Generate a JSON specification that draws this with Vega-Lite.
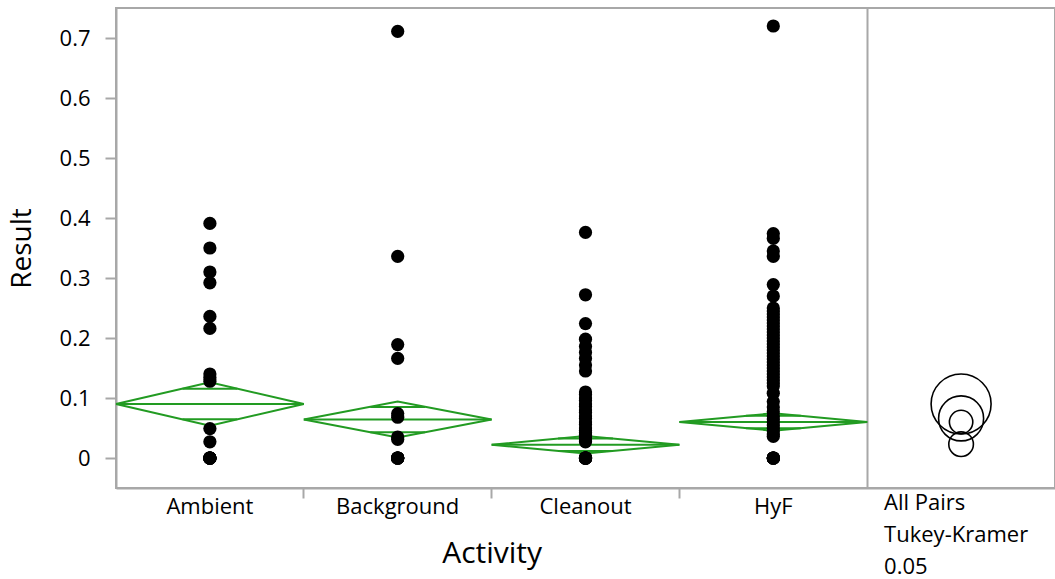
{
  "$schema": "https://vega.github.io/schema/vega-lite/v6.json",
  "width": 939,
  "height": 480,
  "autosize": {"type": "none"},
  "padding": {"left": 116, "top": 8, "right": 0, "bottom": 91},
  "background": "white",
  "config": {
    "font": "Open Sans",
    "view": {"stroke": "#a8a8a8", "strokeWidth": 2},
    "axis": {
      "domainColor": "#a8a8a8", "domainWidth": 2,
      "tickColor": "#a8a8a8", "tickWidth": 2,
      "labelColor": "black", "titleColor": "black",
      "labelFontSize": 22, "titleFontSize": 28, "titleFontWeight": "normal",
      "grid": false
    }
  },
  "datasets": {
    "points": [
      {"Activity": "Ambient", "Result": 0.391}, {"Activity": "Ambient", "Result": 0.35}, {"Activity": "Ambient", "Result": 0.31},
      {"Activity": "Ambient", "Result": 0.292}, {"Activity": "Ambient", "Result": 0.236}, {"Activity": "Ambient", "Result": 0.216},
      {"Activity": "Ambient", "Result": 0.14}, {"Activity": "Ambient", "Result": 0.134}, {"Activity": "Ambient", "Result": 0.128},
      {"Activity": "Ambient", "Result": 0.049}, {"Activity": "Ambient", "Result": 0.027},
      {"Activity": "Ambient", "Result": 0}, {"Activity": "Ambient", "Result": 0}, {"Activity": "Ambient", "Result": 0}, {"Activity": "Ambient", "Result": 0},
      {"Activity": "Ambient", "Result": 0}, {"Activity": "Ambient", "Result": 0}, {"Activity": "Ambient", "Result": 0}, {"Activity": "Ambient", "Result": 0},
      {"Activity": "Background", "Result": 0.711}, {"Activity": "Background", "Result": 0.336}, {"Activity": "Background", "Result": 0.189},
      {"Activity": "Background", "Result": 0.166}, {"Activity": "Background", "Result": 0.074}, {"Activity": "Background", "Result": 0.068},
      {"Activity": "Background", "Result": 0.035}, {"Activity": "Background", "Result": 0.031},
      {"Activity": "Background", "Result": 0}, {"Activity": "Background", "Result": 0}, {"Activity": "Background", "Result": 0},
      {"Activity": "Background", "Result": 0}, {"Activity": "Background", "Result": 0}, {"Activity": "Background", "Result": 0},
      {"Activity": "Cleanout", "Result": 0.376}, {"Activity": "Cleanout", "Result": 0.272}, {"Activity": "Cleanout", "Result": 0.224},
      {"Activity": "Cleanout", "Result": 0.198}, {"Activity": "Cleanout", "Result": 0.186}, {"Activity": "Cleanout", "Result": 0.176},
      {"Activity": "Cleanout", "Result": 0.166}, {"Activity": "Cleanout", "Result": 0.155}, {"Activity": "Cleanout", "Result": 0.145},
      {"Activity": "Cleanout", "Result": 0.11}, {"Activity": "Cleanout", "Result": 0.106}, {"Activity": "Cleanout", "Result": 0.1},
      {"Activity": "Cleanout", "Result": 0.096}, {"Activity": "Cleanout", "Result": 0.09}, {"Activity": "Cleanout", "Result": 0.086},
      {"Activity": "Cleanout", "Result": 0.08}, {"Activity": "Cleanout", "Result": 0.076}, {"Activity": "Cleanout", "Result": 0.07},
      {"Activity": "Cleanout", "Result": 0.066}, {"Activity": "Cleanout", "Result": 0.06}, {"Activity": "Cleanout", "Result": 0.056},
      {"Activity": "Cleanout", "Result": 0.05}, {"Activity": "Cleanout", "Result": 0.046}, {"Activity": "Cleanout", "Result": 0.042},
      {"Activity": "Cleanout", "Result": 0.038}, {"Activity": "Cleanout", "Result": 0.034}, {"Activity": "Cleanout", "Result": 0.03},
      {"Activity": "Cleanout", "Result": 0.027},
      {"Activity": "Cleanout", "Result": 0}, {"Activity": "Cleanout", "Result": 0}, {"Activity": "Cleanout", "Result": 0}, {"Activity": "Cleanout", "Result": 0},
      {"Activity": "Cleanout", "Result": 0}, {"Activity": "Cleanout", "Result": 0}, {"Activity": "Cleanout", "Result": 0}, {"Activity": "Cleanout", "Result": 0},
      {"Activity": "HyF", "Result": 0.72}, {"Activity": "HyF", "Result": 0.374}, {"Activity": "HyF", "Result": 0.366},
      {"Activity": "HyF", "Result": 0.345}, {"Activity": "HyF", "Result": 0.336}, {"Activity": "HyF", "Result": 0.289},
      {"Activity": "HyF", "Result": 0.27}, {"Activity": "HyF", "Result": 0.25}, {"Activity": "HyF", "Result": 0.245},
      {"Activity": "HyF", "Result": 0.24}, {"Activity": "HyF", "Result": 0.235}, {"Activity": "HyF", "Result": 0.23},
      {"Activity": "HyF", "Result": 0.225}, {"Activity": "HyF", "Result": 0.22}, {"Activity": "HyF", "Result": 0.215},
      {"Activity": "HyF", "Result": 0.21}, {"Activity": "HyF", "Result": 0.205}, {"Activity": "HyF", "Result": 0.2},
      {"Activity": "HyF", "Result": 0.195}, {"Activity": "HyF", "Result": 0.19}, {"Activity": "HyF", "Result": 0.185},
      {"Activity": "HyF", "Result": 0.18}, {"Activity": "HyF", "Result": 0.175}, {"Activity": "HyF", "Result": 0.17},
      {"Activity": "HyF", "Result": 0.165}, {"Activity": "HyF", "Result": 0.16}, {"Activity": "HyF", "Result": 0.155},
      {"Activity": "HyF", "Result": 0.15}, {"Activity": "HyF", "Result": 0.145}, {"Activity": "HyF", "Result": 0.14},
      {"Activity": "HyF", "Result": 0.135}, {"Activity": "HyF", "Result": 0.13}, {"Activity": "HyF", "Result": 0.125},
      {"Activity": "HyF", "Result": 0.12}, {"Activity": "HyF", "Result": 0.108}, {"Activity": "HyF", "Result": 0.094},
      {"Activity": "HyF", "Result": 0.085}, {"Activity": "HyF", "Result": 0.077}, {"Activity": "HyF", "Result": 0.07},
      {"Activity": "HyF", "Result": 0.065}, {"Activity": "HyF", "Result": 0.06}, {"Activity": "HyF", "Result": 0.055},
      {"Activity": "HyF", "Result": 0.05}, {"Activity": "HyF", "Result": 0.045}, {"Activity": "HyF", "Result": 0.04},
      {"Activity": "HyF", "Result": 0.036},
      {"Activity": "HyF", "Result": 0}, {"Activity": "HyF", "Result": 0}, {"Activity": "HyF", "Result": 0},
      {"Activity": "HyF", "Result": 0}, {"Activity": "HyF", "Result": 0}, {"Activity": "HyF", "Result": 0}
    ],
    "diamonds": [
      {"Activity": "Ambient", "shape": "d", "k": 0, "pos": 0, "Result": 0.09},
      {"Activity": "Ambient", "shape": "d", "k": 1, "pos": 0.5, "Result": 0.126},
      {"Activity": "Ambient", "shape": "d", "k": 2, "pos": 1, "Result": 0.09},
      {"Activity": "Ambient", "shape": "d", "k": 3, "pos": 0.5, "Result": 0.054},
      {"Activity": "Ambient", "shape": "d", "k": 4, "pos": 0, "Result": 0.09},
      {"Activity": "Ambient", "shape": "m", "k": 0, "pos": 0, "Result": 0.09},
      {"Activity": "Ambient", "shape": "m", "k": 1, "pos": 1, "Result": 0.09},
      {"Activity": "Ambient", "shape": "ou", "k": 0, "pos": 0.354, "Result": 0.1155},
      {"Activity": "Ambient", "shape": "ou", "k": 1, "pos": 0.646, "Result": 0.1155},
      {"Activity": "Ambient", "shape": "ol", "k": 0, "pos": 0.354, "Result": 0.0645},
      {"Activity": "Ambient", "shape": "ol", "k": 1, "pos": 0.646, "Result": 0.0645},
      {"Activity": "Background", "shape": "d", "k": 0, "pos": 0, "Result": 0.064},
      {"Activity": "Background", "shape": "d", "k": 1, "pos": 0.5, "Result": 0.094},
      {"Activity": "Background", "shape": "d", "k": 2, "pos": 1, "Result": 0.064},
      {"Activity": "Background", "shape": "d", "k": 3, "pos": 0.5, "Result": 0.034},
      {"Activity": "Background", "shape": "d", "k": 4, "pos": 0, "Result": 0.064},
      {"Activity": "Background", "shape": "m", "k": 0, "pos": 0, "Result": 0.064},
      {"Activity": "Background", "shape": "m", "k": 1, "pos": 1, "Result": 0.064},
      {"Activity": "Background", "shape": "ou", "k": 0, "pos": 0.354, "Result": 0.0852},
      {"Activity": "Background", "shape": "ou", "k": 1, "pos": 0.646, "Result": 0.0852},
      {"Activity": "Background", "shape": "ol", "k": 0, "pos": 0.354, "Result": 0.0428},
      {"Activity": "Background", "shape": "ol", "k": 1, "pos": 0.646, "Result": 0.0428},
      {"Activity": "Cleanout", "shape": "d", "k": 0, "pos": 0, "Result": 0.022},
      {"Activity": "Cleanout", "shape": "d", "k": 1, "pos": 0.5, "Result": 0.0365},
      {"Activity": "Cleanout", "shape": "d", "k": 2, "pos": 1, "Result": 0.022},
      {"Activity": "Cleanout", "shape": "d", "k": 3, "pos": 0.5, "Result": 0.0075},
      {"Activity": "Cleanout", "shape": "d", "k": 4, "pos": 0, "Result": 0.022},
      {"Activity": "Cleanout", "shape": "m", "k": 0, "pos": 0, "Result": 0.022},
      {"Activity": "Cleanout", "shape": "m", "k": 1, "pos": 1, "Result": 0.022},
      {"Activity": "Cleanout", "shape": "ou", "k": 0, "pos": 0.354, "Result": 0.0323},
      {"Activity": "Cleanout", "shape": "ou", "k": 1, "pos": 0.646, "Result": 0.0323},
      {"Activity": "Cleanout", "shape": "ol", "k": 0, "pos": 0.354, "Result": 0.0117},
      {"Activity": "Cleanout", "shape": "ol", "k": 1, "pos": 0.646, "Result": 0.0117},
      {"Activity": "HyF", "shape": "d", "k": 0, "pos": 0, "Result": 0.06},
      {"Activity": "HyF", "shape": "d", "k": 1, "pos": 0.5, "Result": 0.0745},
      {"Activity": "HyF", "shape": "d", "k": 2, "pos": 1, "Result": 0.06},
      {"Activity": "HyF", "shape": "d", "k": 3, "pos": 0.5, "Result": 0.0455},
      {"Activity": "HyF", "shape": "d", "k": 4, "pos": 0, "Result": 0.06},
      {"Activity": "HyF", "shape": "m", "k": 0, "pos": 0, "Result": 0.06},
      {"Activity": "HyF", "shape": "m", "k": 1, "pos": 1, "Result": 0.06},
      {"Activity": "HyF", "shape": "ou", "k": 0, "pos": 0.354, "Result": 0.0703},
      {"Activity": "HyF", "shape": "ou", "k": 1, "pos": 0.646, "Result": 0.0703},
      {"Activity": "HyF", "shape": "ol", "k": 0, "pos": 0.354, "Result": 0.0497},
      {"Activity": "HyF", "shape": "ol", "k": 1, "pos": 0.646, "Result": 0.0497}
    ],
    "circles": [
      {"Activity": "Comparison", "group": "Ambient", "Result": 0.09, "radius": 0.05},
      {"Activity": "Comparison", "group": "Background", "Result": 0.066, "radius": 0.0375},
      {"Activity": "Comparison", "group": "Cleanout", "Result": 0.023, "radius": 0.0205},
      {"Activity": "Comparison", "group": "HyF", "Result": 0.06, "radius": 0.0195}
    ]
  },
  "layer": [
    {
      "data": {"name": "diamonds"},
      "mark": {"type": "line", "color": "#229b22", "strokeWidth": 2},
      "encoding": {
        "x": {
          "field": "Activity", "type": "nominal",
          "scale": {"domain": ["Ambient", "Background", "Cleanout", "HyF", "Comparison"], "paddingInner": 0, "paddingOuter": 0},
          "axis": {
            "title": "Activity",
            "titleX": 375.6, "titleY": 74, "titleBaseline": "alphabetic", "titleAlign": "center", "titleFontSize": 30,
            "bandPosition": 0,
            "labelExpr": "datum.value === 'Comparison' ? ['All Pairs', 'Tukey-Kramer', '0.05'] : datum.label",
            "labelAlign": {"condition": {"test": "datum.value === 'Comparison'", "value": "left"}, "value": "center"},
            "labelOffset": {"condition": {"test": "datum.value === 'Comparison'", "value": -77}, "value": 0},
            "labelPadding": {"condition": {"test": "datum.value === 'Comparison'", "value": -6}, "value": -2},
            "labelLineHeight": 32,
            "labelBaseline": "top",
            "labelAngle": 0,
            "labelOverlap": false, "labelFlush": false, "labelLimit": 400,
            "tickSize": 10,
            "tickOpacity": {"condition": {"test": "datum.value === 'Ambient' || datum.value === 'Comparison'", "value": 0}, "value": 1},
            "grid": true, "gridColor": "#a8a8a8", "gridWidth": 2,
            "gridOpacity": {"condition": {"test": "datum.value === 'Comparison'", "value": 1}, "value": 0}
          }
        },
        "xOffset": {"field": "pos", "type": "quantitative", "scale": {"domain": [0, 1]}},
        "y": {
          "field": "Result", "type": "quantitative",
          "scale": {"domain": [-0.05, 0.75], "nice": false, "zero": false},
          "axis": {
            "title": "Result",
            "values": [0, 0.05, 0.1, 0.15, 0.2, 0.25, 0.3, 0.35, 0.4, 0.45, 0.5, 0.55, 0.6, 0.65, 0.7],
            "labelExpr": "round(datum.value * 100) % 10 === 0 ? format(datum.value, '.1~f') : ''",
            "tickSize": {"condition": {"test": "round(datum.value * 100) % 10 === 0", "value": 11}, "value": 5},
            "labelPadding": 15,
            "titleX": -94, "titleBaseline": "middle", "titleAngle": -90
          }
        },
        "detail": [{"field": "Activity"}, {"field": "shape"}],
        "order": {"field": "k", "type": "quantitative"}
      }
    },
    {
      "data": {"name": "points"},
      "mark": {"type": "circle", "color": "black", "size": 175, "opacity": 1},
      "encoding": {
        "x": {"field": "Activity", "type": "nominal"},
        "y": {"field": "Result", "type": "quantitative"}
      }
    },
    {
      "data": {"name": "circles"},
      "mark": {"type": "point", "shape": "circle", "filled": false, "color": "black", "strokeWidth": 1.6, "opacity": 1},
      "encoding": {
        "x": {"field": "Activity", "type": "nominal"},
        "y": {"field": "Result", "type": "quantitative"},
        "size": {"field": "radius", "type": "quantitative", "scale": {"type": "pow", "exponent": 2, "domain": [0, 0.05], "range": [0, 3600]}, "legend": null}
      }
    }
  ]
}
